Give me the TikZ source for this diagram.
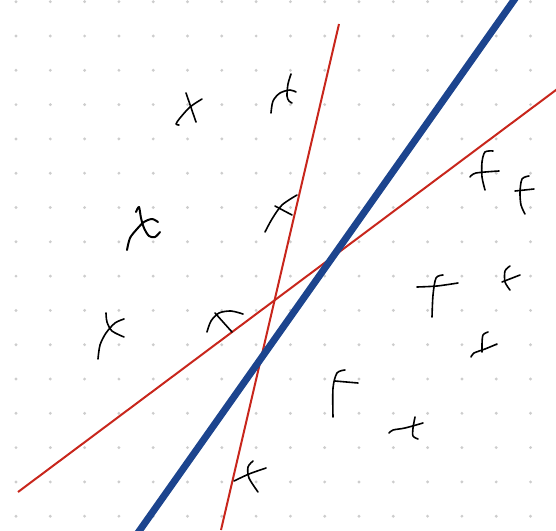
\documentclass[tikz,border=0pt]{standalone}
\usepackage{tikz}
\definecolor{sketchblue}{RGB}{28,68,142}
\definecolor{sketchred}{RGB}{200,38,28}
\definecolor{dotgray}{RGB}{205,205,205}
\usetikzlibrary{calc}

\begin{document}
\begin{tikzpicture}[
  x=1pt, y=-1pt,
  griddot/.style={fill=dotgray},
  redline/.style={draw=sketchred, line width=2pt},
  blueline/.style={draw=sketchblue, line width=7pt},
  ink/.style={draw=black, line width=1.6pt, line cap=round, line join=round}
]
  \useasboundingbox (0,0) rectangle (556,530);
  \clip (0,0) rectangle (556,530);

  %% Dotted paper
  \foreach \i in {0,...,15}
    \foreach \j in {0,...,15}
      \fill[griddot] ({16+34.3*\i},{1.7+34.3*\j}) circle (1.6);

  %% Separating lines
  \coordinate (rsa) at (221,530);
  \coordinate (rsb) at (339,24);
  \coordinate (rfa) at (18,492);
  \coordinate (rfb) at (560,87);
  \coordinate (bla) at (135,537);
  \coordinate (blb) at (519,-7);
  \draw[redline] (rsa) -- (rsb);
  \draw[redline] (rfa) -- (rfb);
  \draw[blueline] (bla) -- (blb);

  %% Crosses (upper left side)
  \draw[ink] plot[smooth] coordinates {(202,99) (190,107) (180,118) (176,124) (179,125)};
  \draw[ink] (186,93) -- (196,122);
  \draw[ink] plot[smooth] coordinates {(291,74) (288,84) (287,96) (289,101) (292,103)};
  \draw[ink] plot[smooth] coordinates {(271,113) (273,101) (280,93) (290,90) (296,92)};
  \draw[ink, line width=2pt] plot[smooth] coordinates {(127,250) (130,238) (137,229) (144,222) (152,219) (158,222)};
  \draw[ink, line width=2pt] plot[smooth] coordinates {(136,212) (139,207) (141,218) (144,228) (149,236) (155,237) (160,232)};
  \draw[ink] plot[smooth] coordinates {(265,232) (272,219) (282,205) (297,195)};
  \draw[ink] (275,206) -- (292,215);
  \draw[ink] plot[smooth] coordinates {(98,359) (100,345) (106,333) (115,323) (124,319)};
  \draw[ink] plot[smooth] coordinates {(106,313) (107,322) (112,331) (124,337)};
  \draw[ink] plot[smooth] coordinates {(207,332) (211,321) (219,313) (231,311) (243,314)};
  \draw[ink] (215,313) -- (232,332);
  \draw[ink] plot[smooth] coordinates {(234,481) (249,474) (266,468)};
  \draw[ink] plot[smooth] coordinates {(253,461) (248,467) (249,478) (258,492)};

  %% Ticks (lower right side)
  \draw[ink] plot[smooth] coordinates {(493,151) (485,152) (482,162) (482,177) (485,190)};
  \draw[ink] plot[smooth] coordinates {(470,177) (476,173) (499,171)};
  \draw[ink] plot[smooth] coordinates {(529,176) (522,179) (520,192) (521,205) (525,214)};
  \draw[ink] (515,191) -- (534,189);
  \draw[ink] plot[smooth] coordinates {(417,287) (437,286) (458,283)};
  \draw[ink] plot[smooth] coordinates {(443,275) (436,278) (433,295) (432,317)};
  \draw[ink] plot[smooth] coordinates {(510,266) (505,271) (505,282) (510,290)};
  \draw[ink] (502,282) -- (520,275);
  \draw[ink] plot[smooth] coordinates {(488,332) (483,335) (482,344) (482,352)};
  \draw[ink] plot[smooth] coordinates {(471,357) (474,353) (485,349) (497,344)};
  \draw[ink] plot[smooth] coordinates {(345,370) (337,373) (333,388) (333,417)};
  \draw[ink] (335,381) -- (358,383);
  \draw[ink] plot[smooth] coordinates {(389,433) (393,430) (405,428) (423,423)};
  \draw[ink] plot[smooth] coordinates {(415,417) (413,428) (413,436) (418,439)};
\end{tikzpicture}
\end{document}
